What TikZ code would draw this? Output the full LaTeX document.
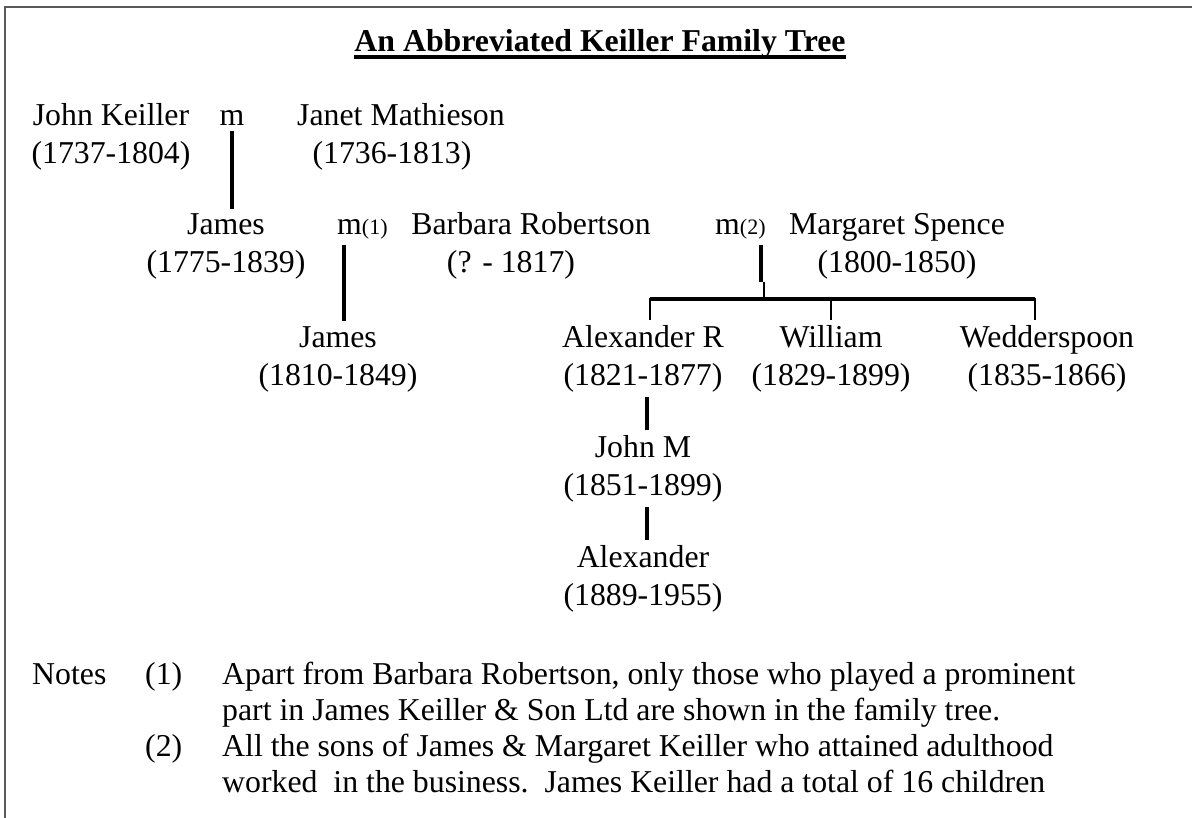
\documentclass[tikz,border=0pt]{standalone}
\usepackage{fontspec}
\setmainfont{Liberation Serif}

\begin{document}
\begin{tikzpicture}[x=1pt, y=-1pt, node distance=110pt]
    % Define block styles
    \tikzstyle{person} = [align=center, inner sep=5pt, anchor=base, font=\fontsize{31.8}{38}\selectfont]
    \tikzstyle{wed} = [inner sep=5pt, anchor=base, font=\fontsize{31.8}{38}\selectfont]
    \tikzstyle{link} = [line width=3.5pt]
    \tikzstyle{twig} = [line width=2.5pt]
    \tikzstyle{frame} = [line width=1.5pt, black!65]

    \useasboundingbox (0,0) rectangle (1192,818);
    \draw[frame] (5,818) -- (5,7) -- (1192,7);

    % Title
    \node[anchor=base, inner sep=0pt, font=\fontsize{31.8}{38}\selectfont\bfseries] (title) at (600,52) {An Abbreviated Keiller Family Tree};
    \draw[line width=3.5pt] ([yshift=-5pt]title.base west) -- ([yshift=-5pt]title.base east);

    % Nodes (base = second line)
    \node[person] (jk) at (111,164) {John Keiller\\(1737-1804)};
    \node[wed] (m0) at (232,126) {m};
    \node[person] (jm) at (401,164) {Janet Mathieson\\\hspace*{-18pt}(1736-1813)};
    \node[person] (james) at (226,273) {James\\(1775-1839)};
    \node[wed, anchor=base west] (mb) at (332,235) {m{\fontsize{22}{22}\selectfont(1)}};
    \node[person] (br) at (531,273) {Barbara Robertson\\\hspace*{-40pt}(? - 1817)};
    \node[wed, anchor=base west] (mm) at (710,235) {m{\fontsize{22}{22}\selectfont(2)}};
    \node[person] (ms) at (897,273) {Margaret Spence\\(1800-1850)};
    \node[person] (james2) at (338,385) {James\\(1810-1849)};
    \node[person] (alex) at (643,385) {Alexander R\\(1821-1877)};
    \node[person] (will) at (831,385) {William\\(1829-1899)};
    \node[person] (wedd) at (1047,385) {Wedderspoon\\(1835-1866)};
    \node[person, below of=alex] (johnm) {John M\\(1851-1899)};
    \node[person, below of=johnm] (alex2) {Alexander\\(1889-1955)};

    % Lines
    \draw[link] (m0.south) -- (m0.south |- james.north);
    \coordinate (mbdrop) at ([xshift=12pt]mb.south west);
    \draw[link] (mbdrop) -- (mbdrop |- james2.north);
    \coordinate (mmdrop) at ([xshift=51pt]mm.south west);
    \coordinate (fork) at (764,299);
    \draw[link] (mmdrop) -- ++(0,37);
    \draw[twig] (fork) -- ++(0,-17);
    \coordinate (barL) at (650,299);
    \coordinate (barR) at (1035,299);
    \draw[twig] (barL |- alex.north) -- (barL) -- (barR) -- (barR |- wedd.north);
    \draw[link] (barL) -- (barR);
    \draw[twig] (will.north |- fork) -- (will.north);
    \draw[link] ([xshift=4pt]alex.south) -- ([xshift=4pt]johnm.north);
    \draw[link] ([xshift=4pt]johnm.south) -- ([xshift=4pt]alex2.north);

    % Notes
    \node[wed, anchor=base west] (notes) at (27,684) {Notes};
    \node[wed, anchor=base west] (n1) at (140,684) {(1)};
    \node[wed, anchor=base west] (n2) at (140,756) {(2)};
    \node[wed, anchor=base west, align=left, font=\fontsize{31.8}{36}\selectfont] (notetext) at (217,792)
        {Apart from Barbara Robertson, only those who played a prominent\\
         part in James Keiller \& Son Ltd are shown in the family tree.\\
         All the sons of James \& Margaret Keiller who attained adulthood\\
         worked\ \ in the business.\ \ James Keiller had a total of 16 children};

\end{tikzpicture}
\end{document}
